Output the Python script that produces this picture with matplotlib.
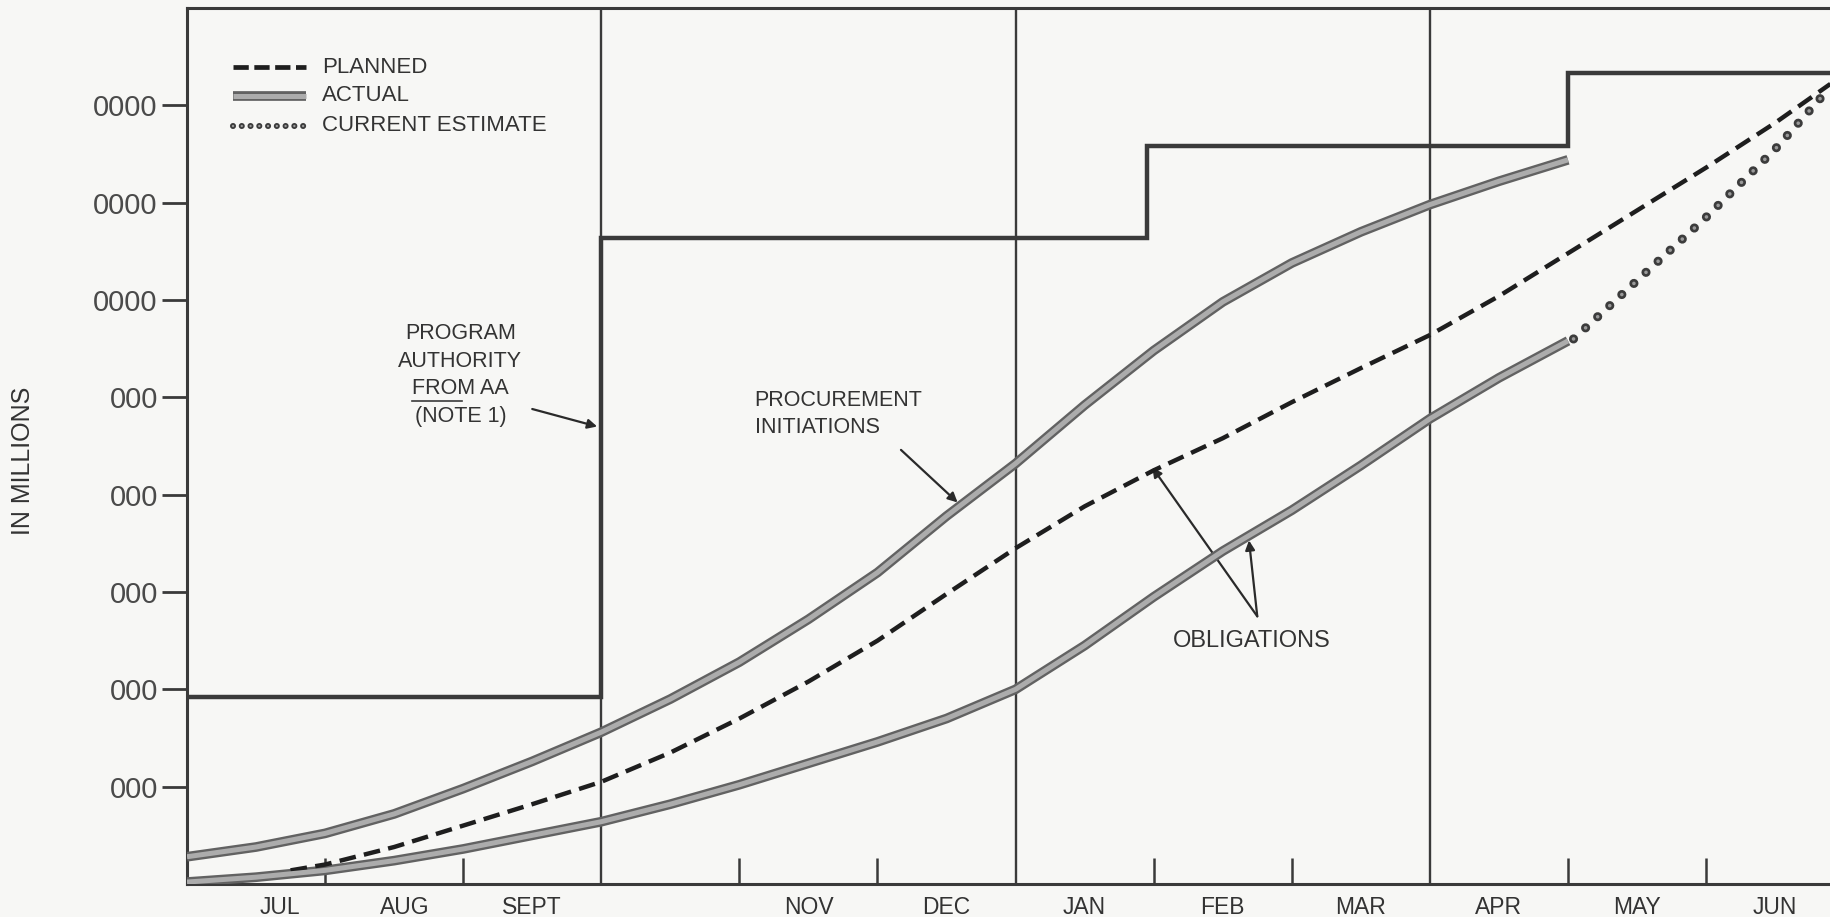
import numpy as np
import matplotlib
matplotlib.use("Agg")
import matplotlib.pyplot as plt

plt.rcParams['lines.scale_dashes'] = False

# ---- data -------------------------------------------------------------
# Fiscal-year months (the October label is blank on the sheet)
month_labels = ["JUL", "AUG", "SEPT", "", "NOV", "DEC",
                "JAN", "FEB", "MAR", "APR", "MAY", "JUN"]
ytick_values = [1, 2, 3, 4, 5, 6, 7, 8]
ytick_labels = ["000", "000", "000", "000", "000", "0000", "0000", "0000"]

# Program authority from AA (cumulative step), month edges
authority_edges = [0, 3, 6.95, 10, 12]
authority_values = [1.92, 6.64, 7.58, 8.33]

# Procurement initiations, actual
proc_months = [0, 0.5, 1.0, 1.5, 2.0, 2.5, 3.0, 3.5, 4.0, 4.5, 5.0,
               5.5, 6.0, 6.5, 7.0, 7.5, 8.0, 8.5, 9.0, 9.5, 10.0]
proc_actual = [0.28, 0.38, 0.52, 0.72, 0.98, 1.26, 1.56, 1.90, 2.28, 2.72, 3.20,
               3.78, 4.32, 4.92, 5.48, 5.98, 6.38, 6.70, 6.98, 7.22, 7.44]

# Obligations, planned
plan_months = [0.75, 1.0, 1.5, 2.0, 2.5, 3.0, 3.5, 4.0, 4.5, 5.0, 5.5, 6.0,
               6.5, 7.0, 7.5, 8.0, 8.5, 9.0, 9.5, 10.0, 10.5, 11.0, 11.5, 11.9]
plan_values = [0.14, 0.20, 0.38, 0.60, 0.82, 1.05, 1.35, 1.70, 2.08, 2.50, 2.98, 3.45,
               3.88, 4.25, 4.58, 4.95, 5.30, 5.64, 6.04, 6.48, 6.92, 7.36, 7.82, 8.22]

# Obligations, actual
oblig_months = [0, 0.5, 1.0, 1.5, 2.0, 2.5, 3.0, 3.5, 4.0, 4.5, 5.0,
                5.5, 6.0, 6.5, 7.0, 7.5, 8.0, 8.5, 9.0, 9.5, 10.0]
oblig_actual = [0.02, 0.07, 0.14, 0.24, 0.36, 0.50, 0.64, 0.82, 1.02, 1.24, 1.46,
                1.70, 2.00, 2.45, 2.95, 3.42, 3.84, 4.30, 4.78, 5.20, 5.58]

# Obligations, current estimate
est_months = [10.04, 10.5, 11.0, 11.5, 11.87]
est_values = [5.60, 6.20, 6.85, 7.55, 8.14]

# ---- style ------------------------------------------------------------
BG = "#f7f7f5"
INK = "#3a3a3a"
TEXT = "#333333"
NARROW = ["Liberation Sans Narrow", "Liberation Sans", "DejaVu Sans"]
SANS = ["Liberation Sans", "DejaVu Sans"]

W, H = 1831, 917
fig = plt.figure(figsize=(W / 100, H / 100), dpi=100)
fig.patch.set_facecolor(BG)

ax_left, ax_bottom = 187, 884
ax = fig.add_axes([ax_left / W, (H - ax_bottom) / H, (W - ax_left) / W, (ax_bottom - 8) / H])
ax.set_facecolor(BG)
ax.set_xlim(0, (W - ax_left) / 138.1)
ax.set_ylim(0, 9)

for side in ("left", "top", "bottom"):
    ax.spines[side].set_color(INK)
    ax.spines[side].set_linewidth(2.2)
ax.spines["right"].set_visible(False)

# y axis
ax.set_yticks(ytick_values, ytick_labels)
ax.tick_params(axis="y", direction="out", length=18, width=2.0, color=INK,
               pad=3, labelsize=21, labelcolor="#4a4a4a")
for lab in ax.get_yticklabels():
    lab.set_fontfamily(NARROW)

# x axis: monthly ticks inside, month names inside each month
ax.set_xticks([1, 2, 4, 5, 7, 8, 10, 11])
ax.set_xticklabels([])
ax.tick_params(axis="x", which="major", direction="in", length=19, width=1.8, color=INK)
label_pos = np.arange(12) + 0.5
label_pos[0] += 0.17   # JUL and AUG are typed a little right of centre
label_pos[1] += 0.08
ax.set_xticks(label_pos, minor=True)
ax.set_xticklabels(month_labels, minor=True)
ax.tick_params(axis="x", which="minor", length=0, pad=9, labelsize=16.5, labelcolor=TEXT)
for lab in ax.get_xticklabels(minor=True):
    lab.set_fontfamily(NARROW)

# quarter dividers
for q in (3, 6, 9):
    ax.axvline(q, color=INK, lw=1.7, zorder=2)

# program authority
ax.stairs(authority_values, authority_edges, baseline=None, color=INK, lw=3.2, zorder=3)


def actual_band(x, y, **kw):
    ax.plot(x, y, color="#626262", lw=7.0, solid_capstyle="butt",
            solid_joinstyle="round", zorder=4, **kw)
    ax.plot(x, y, color="#acacac", lw=3.6, solid_capstyle="butt",
            solid_joinstyle="round", zorder=5, **kw)


def estimate_dots(x, y, size=6.6, gap=11.8, **kw):
    ax.plot(x, y, color="#3c3c3c", lw=size, ls=(0, (0.01, gap)),
            dash_capstyle="round", zorder=4, **kw)
    ax.plot(x, y, color="#9a9a9a", lw=size * 0.4, ls=(0, (0.01, gap)),
            dash_capstyle="round", zorder=5, **kw)


actual_band(proc_months, proc_actual)
actual_band(oblig_months, oblig_actual)
ax.plot(plan_months, plan_values, color="#1e1e1e", lw=3.2, ls=(0, (12, 6)), zorder=4)
estimate_dots(est_months, est_values)

# legend key
ax.plot([0.33, 0.86], [8.39, 8.39], color="#1e1e1e", lw=3.4, ls=(0, (11, 4)))
actual_band([0.33, 0.86], [8.10, 8.10])
estimate_dots([0.33, 0.86], [7.79, 7.79], size=4.4, gap=6.3)
for yv, txt in ((8.39, "PLANNED"), (8.10, "ACTUAL"), (7.79, "CURRENT ESTIMATE")):
    ax.text(0.975, yv, txt, ha="left", va="center", fontsize=16,
            family=SANS, color=TEXT)

# annotations
ax.text(1.98, 5.23, "PROGRAM\nAUTHORITY\nFROM AA\n(NOTE 1)", ha="center", va="center",
        fontsize=15.5, family=SANS, color=TEXT, linespacing=1.42)
ax.plot([1.63, 1.99], [4.96, 4.96], color="#3a3a3a", lw=1.2)
ax.annotate("", xy=(2.97, 4.70), xytext=(2.50, 4.88),
            arrowprops=dict(arrowstyle="-|>", color="#2a2a2a", lw=1.6,
                            mutation_scale=14, shrinkA=0, shrinkB=0))

ax.text(4.11, 4.83, "PROCUREMENT\nINITIATIONS", ha="left", va="center",
        fontsize=15.5, family=SANS, color=TEXT, linespacing=1.35)
ax.annotate("", xy=(5.58, 3.92), xytext=(5.17, 4.46),
            arrowprops=dict(arrowstyle="-|>", color="#2a2a2a", lw=1.6,
                            mutation_scale=14, shrinkA=0, shrinkB=0))

ax.text(7.71, 2.50, "OBLIGATIONS", ha="center", va="center",
        fontsize=17, family=SANS, color=TEXT)
for tip in ((6.99, 4.28), (7.69, 3.53)):
    ax.annotate("", xy=tip, xytext=(7.75, 2.75),
                arrowprops=dict(arrowstyle="-|>", color="#2a2a2a", lw=1.6,
                                mutation_scale=14, shrinkA=0, shrinkB=0))

fig.text(23 / W, 1 - 461 / H, "IN MILLIONS", rotation=90, ha="center", va="center",
         fontsize=18, family=SANS, color=TEXT)

fig.savefig("out.png", dpi=100, facecolor=BG)
